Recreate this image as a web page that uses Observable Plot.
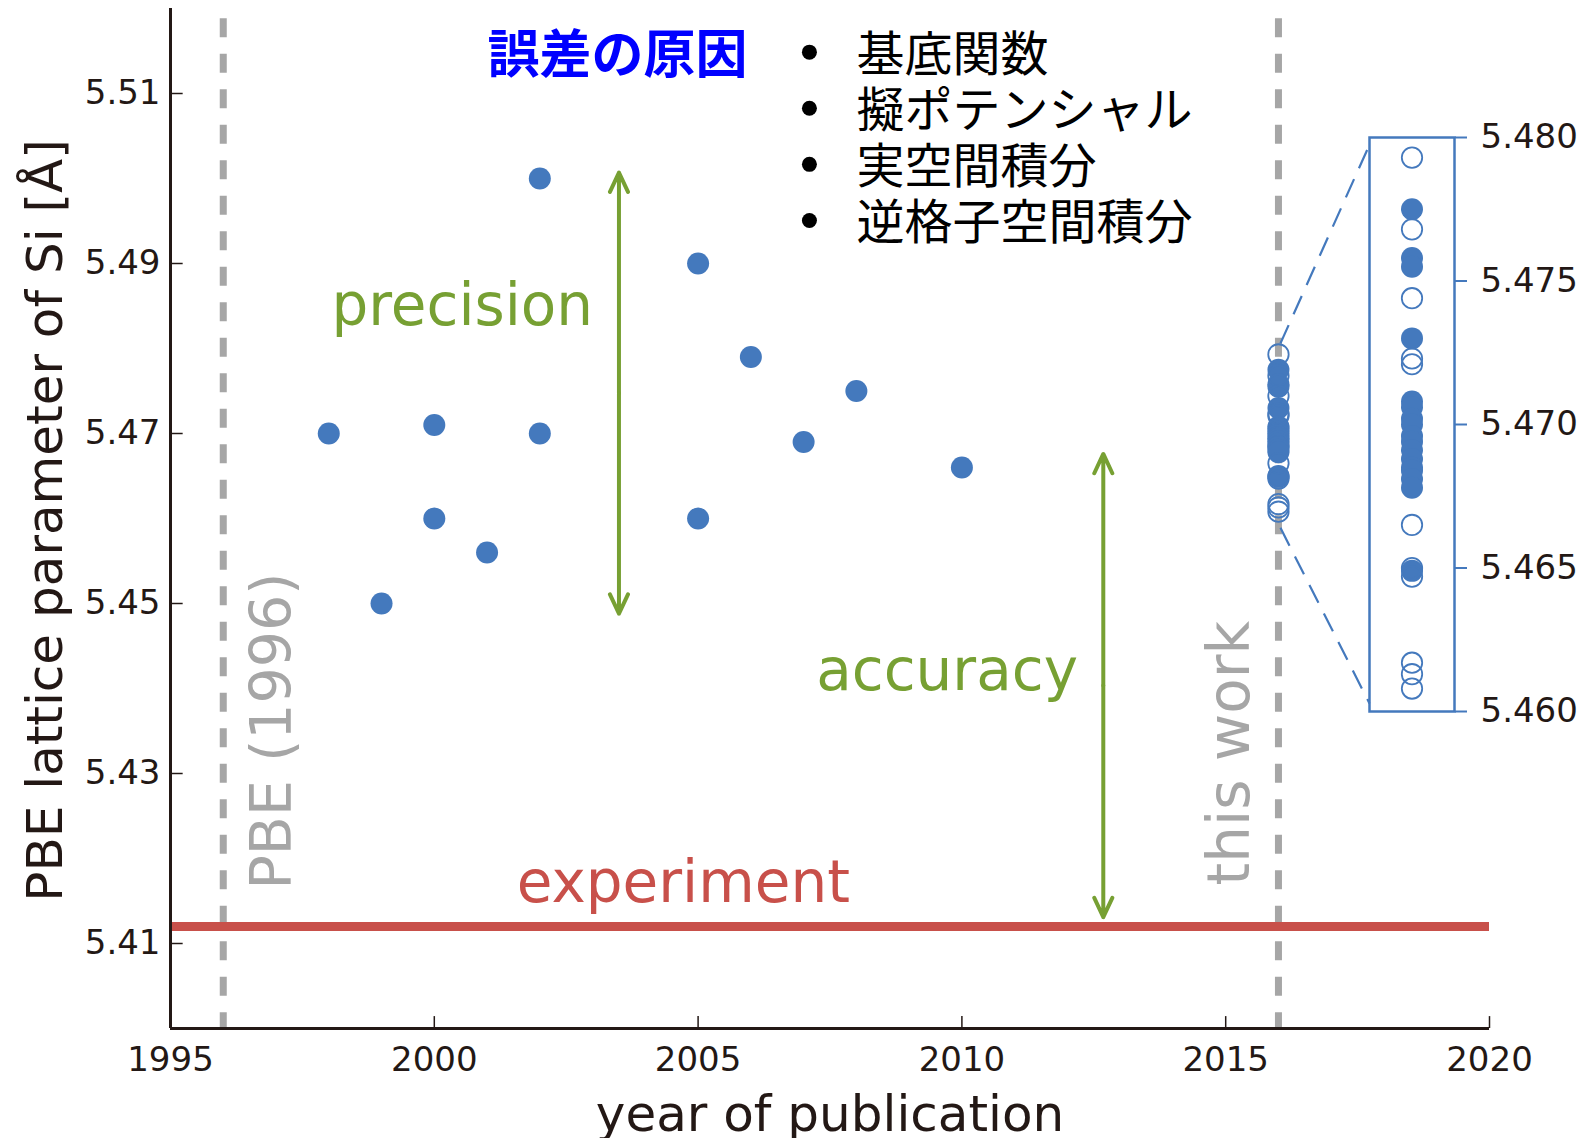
<!DOCTYPE html>
<html>
<head>
<meta charset="utf-8">
<script src="https://cdn.jsdelivr.net/npm/d3@7"></script>
<script src="https://cdn.jsdelivr.net/npm/@observablehq/plot@0.6"></script>
<style>
  html, body { margin: 0; padding: 0; background: #ffffff; }
  #wrap { position: relative; width: 1592px; height: 1138px; overflow: hidden; background: #ffffff; }
  #wrap > svg { position: absolute; }
</style>
</head>
<body>
<div id="wrap"></div>
<script>
// ---------------- data ----------------
const litYears  = [1998, 1999, 2000, 2000, 2001, 2002, 2002, 2005, 2005, 2006, 2007, 2008, 2010];
const litValues = [5.470, 5.450, 5.471, 5.460, 5.456, 5.500, 5.470, 5.490, 5.460, 5.479, 5.469, 5.475, 5.466];

const thisWorkYear = 2016;
const thisWorkValues = [5.4793, 5.4775, 5.4768, 5.4758, 5.4755, 5.4744, 5.4730, 5.4723, 5.4721,
  5.4708, 5.4706, 5.4702, 5.4700, 5.4696, 5.4694, 5.4691, 5.4688, 5.4685, 5.4684, 5.4681, 5.4678,
  5.4665, 5.4650, 5.4649, 5.4647, 5.4617, 5.4613, 5.4608];
const thisWorkFilled = [false, true, false, true, true, false, true, false, false,
  true, true, true, true, true, true, true, true, true, true, true, true,
  false, false, true, false, false, false, false];

const experimentValue = 5.412;
const referenceYears = [1996, 2016];
const referenceLabels = ["PBE (1996)", "this work"];

const xTicks = [1995, 2000, 2005, 2010, 2015, 2020];
const yTicks = [5.41, 5.43, 5.45, 5.47, 5.49, 5.51];
const insetTicks = [5.460, 5.465, 5.470, 5.475, 5.480];

const xLabel = "year of publication";
const yLabel = "PBE lattice parameter of Si [Å]";
const causeTitle = "誤差の原因";
const causeItems = ["基底関数", "擬ポテンシャル", "実空間積分", "逆格子空間積分"];

// ---------------- styles ----------------
const BLUE = "#4479bd";
const GREEN = "#77a033";
const RED = "#c8504a";
const GRAY = "#a6a6a6";
const DARK = "#231815";
const LATIN = "'DejaVu Sans', 'Bitstream Vera Sans', sans-serif";
const CJK = "'Noto Sans CJK JP', sans-serif";

const lit = litYears.map((x, i) => ({x, y: litValues[i]}));
const tw = thisWorkValues.map((y, i) => ({x: thisWorkYear, y, filled: thisWorkFilled[i]}));
const twFilled = tw.filter(d => d.filled);
const twOpen = tw.filter(d => !d.filled);

// double-headed arrows (drawn as two arrows from their midpoint)
const arrowSpans = [
  {x: 2003.5, lo: 5.4488, hi: 5.5007},
  {x: 2012.68, lo: 5.4131, hi: 5.4676}
];
const arrowHalves = arrowSpans.flatMap(a => {
  const m = (a.lo + a.hi) / 2;
  return [{x: a.x, y1: m, y2: a.hi}, {x: a.x, y1: m, y2: a.lo}];
});

const notes = [
  {text: "precision", x: 2000.53, y: 5.4828, color: GREEN},
  {text: "accuracy", x: 2009.72, y: 5.4398, color: GREEN},
  {text: "experiment", x: 2004.72, y: 5.4149, color: RED}
];
const refNotes = [
  {text: referenceLabels[0], x: 1997.29, y: 5.435, size: 57},
  {text: referenceLabels[1], x: 2015.45, y: 5.4324, size: 58}
];
const items = causeItems.map((t, i) => ({text: t, y: 5.51451 - i * 0.0066}));

// ---------------- main plot ----------------
const W = 1592, H = 1138;
const main = Plot.plot({
  width: W, height: H,
  marginLeft: 170, marginRight: 103, marginTop: 8, marginBottom: 110,
  style: {fontFamily: LATIN, fontSize: "34px", color: DARK, background: "transparent", overflow: "visible"},
  x: {domain: [1995, 2020], label: null, axis: null},
  y: {domain: [5.40, 5.52], label: null, axis: null},
  marks: [
    // vertical dashed reference lines
    Plot.ruleX(referenceYears, {y1: 5.5188, y2: 5.40, stroke: GRAY, strokeWidth: 7, strokeDasharray: "19,16.5"}),
    // experiment line
    Plot.ruleY([experimentValue], {x1: 1995, x2: 2020, stroke: RED, strokeWidth: 9}),
    // axes
    Plot.axisX({ticks: xTicks, tickSize: 0, tickPadding: 18, tickFormat: d => String(d), fontSize: 34, fill: DARK, label: null}),
    Plot.axisY({ticks: yTicks, tickSize: 0, tickPadding: 10, tickFormat: d3.format(".2f"), fontSize: 34, fill: DARK, label: null}),
    Plot.ruleX(xTicks, {y1: 5.40, y2: 5.4014, stroke: DARK, strokeWidth: 1.5}),
    Plot.ruleY(yTicks, {x1: 1995, x2: 1995.24, stroke: DARK, strokeWidth: 1.5}),
    Plot.ruleX([1995], {stroke: DARK, strokeWidth: 3}),
    Plot.ruleY([5.40], {stroke: DARK, strokeWidth: 3}),
    // axis labels
    Plot.text([yLabel], {frameAnchor: "left", dx: -109, dy: 2, rotate: -90, lineAnchor: "bottom", textAnchor: "middle", fontSize: 50, fill: DARK}),
    Plot.text([xLabel], {frameAnchor: "bottom", dy: 102, lineAnchor: "bottom", textAnchor: "middle", fontSize: 50, fill: DARK}),
    // arrows
    Plot.arrow(arrowHalves, {x: "x", y1: "y1", y2: "y2", stroke: GREEN, strokeWidth: 4, headAngle: 50, headLength: 8}),
    // annotations
    Plot.text(notes, {x: "x", y: "y", text: "text", fill: d => d.color, fontSize: 58, lineAnchor: "bottom", textAnchor: "middle"}),
    Plot.text(refNotes, {x: "x", y: "y", text: "text", fill: GRAY, fontSize: d => d.size, rotate: -90, lineAnchor: "bottom", textAnchor: "middle"}),
    Plot.text([causeTitle], {x: 2003.47, y: 5.51435, fill: "#0000ff", fontSize: 52, fontWeight: "bold", fontFamily: CJK, textAnchor: "middle", lineAnchor: "middle"}),
    Plot.dot(items, {x: 2007.11, y: "y", r: 7.5, fill: "#000000", dy: -3}),
    Plot.text(items, {x: 2008.0, y: "y", text: "text", fill: "#000000", fontSize: 48, fontFamily: CJK, textAnchor: "start", lineAnchor: "middle"}),
    // data points
    Plot.dot(lit, {x: "x", y: "y", r: 11, fill: BLUE}),
    Plot.dot(twFilled, {x: "x", y: "y", r: 11, fill: BLUE}),
    Plot.dot(twOpen, {x: "x", y: "y", r: 10.2, fill: "none", stroke: BLUE, strokeWidth: 1.8})
  ]
});
main.style.left = "0px";
main.style.top = "0px";

// ---------------- inset plot ----------------
const box = {left: 1369, top: 137, width: 85, height: 574};
const im = {left: 2, top: 2, right: 130, bottom: 20};
const inset = Plot.plot({
  width: box.width + im.left + im.right, height: box.height + im.top + im.bottom,
  marginLeft: im.left, marginTop: im.top, marginRight: im.right, marginBottom: im.bottom,
  style: {fontFamily: LATIN, fontSize: "34px", color: DARK, background: "transparent", overflow: "visible"},
  x: {domain: [0, 1], axis: null, label: null},
  y: {domain: [5.460, 5.480], axis: null, label: null},
  marks: [
    Plot.frame({stroke: BLUE, strokeWidth: 2.5}),
    Plot.axisY({anchor: "right", ticks: insetTicks, tickSize: 12, tickPadding: 14, tickFormat: d3.format(".3f"),
      stroke: BLUE, strokeWidth: 2, fill: DARK, fontSize: 34, label: null}),
    Plot.dot(twFilled, {x: () => 0.5, y: "y", r: 11, fill: BLUE}),
    Plot.dot(twOpen, {x: () => 0.5, y: "y", r: 10.2, fill: "none", stroke: BLUE, strokeWidth: 1.8})
  ]
});
const insetLeft = box.left - im.left, insetTop = box.top - im.top;
inset.style.left = insetLeft + "px";
inset.style.top = insetTop + "px";

// ---------------- connectors (identity overlay) ----------------
const mx = main.scale("x"), my = main.scale("y"), iy = inset.scale("y");
const connectors = [
  {x1: mx.apply(thisWorkYear) + 2, y1: my.apply(5.4806), x2: box.left, y2: insetTop + iy.apply(5.47975)},
  {x1: mx.apply(thisWorkYear) + 2, y1: my.apply(5.4589), x2: box.left, y2: insetTop + iy.apply(5.46028)}
];
const overlay = Plot.plot({
  width: W, height: H, margin: 0,
  style: {background: "transparent", overflow: "visible"},
  x: {type: "identity", axis: null},
  y: {type: "identity", axis: null},
  marks: [
    Plot.link(connectors, {x1: "x1", y1: "y1", x2: "x2", y2: "y2", stroke: BLUE, strokeWidth: 2.2, strokeDasharray: "20,12"})
  ]
});
overlay.style.left = "0px";
overlay.style.top = "0px";
overlay.style.pointerEvents = "none";

const wrap = document.getElementById("wrap");
wrap.appendChild(main);
wrap.appendChild(inset);
wrap.appendChild(overlay);
</script>
</body>
</html>
